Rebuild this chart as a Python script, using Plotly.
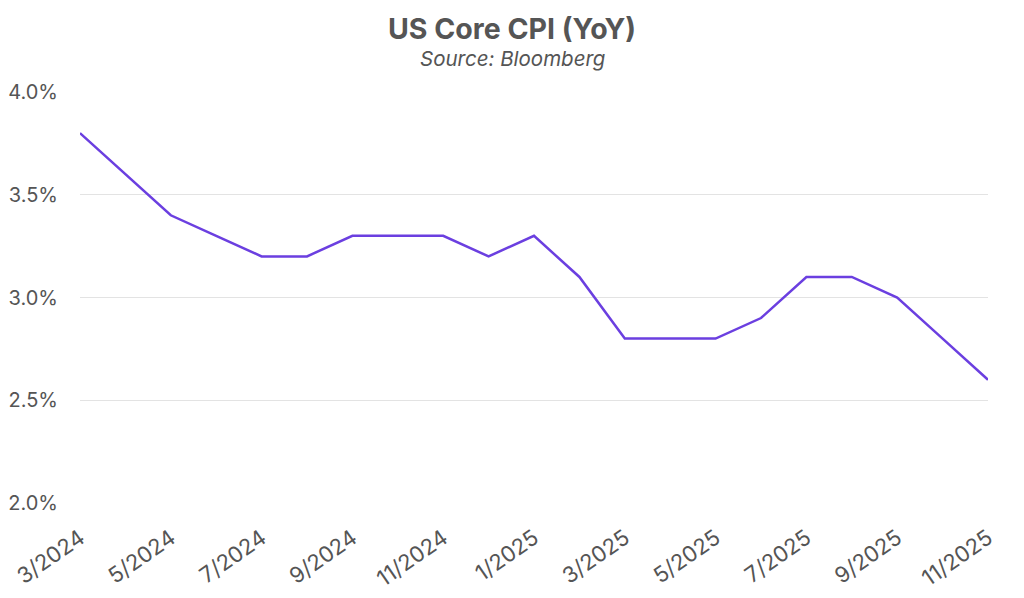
import plotly.graph_objects as go

months = ["3/2024", "4/2024", "5/2024", "6/2024", "7/2024", "8/2024", "9/2024",
          "10/2024", "11/2024", "12/2024", "1/2025", "2/2025", "3/2025", "4/2025",
          "5/2025", "6/2025", "7/2025", "8/2025", "9/2025", "10/2025", "11/2025"]
core_cpi = [3.8, 3.6, 3.4, 3.3, 3.2, 3.2, 3.3, 3.3, 3.3, 3.2, 3.3, 3.1, 2.8, 2.8,
            2.8, 2.9, 3.1, 3.1, 3.0, 2.8, 2.6]
tick_labels = months[::2]
y_ticks = [2.0, 2.5, 3.0, 3.5, 4.0]

FONT = "Inter, Open Sans, sans-serif"
GREY = "#555555"

fig = go.Figure()
fig.add_trace(go.Scatter(
    x=months, y=core_cpi, mode="lines",
    line=dict(color="#6B3FE0", width=2.5),
    hoverinfo="x+y",
))

# page body has an 8px margin, so the figure is sized 1008x582
fig.update_layout(
    width=1008, height=582,
    paper_bgcolor="white", plot_bgcolor="white",
    margin=dict(l=72, r=28, t=84, b=87, autoexpand=False),
    showlegend=False,
    font=dict(family=FONT, color=GREY),
)
# titles centred on the page rather than the plot area
title_x = (504 - 72) / 908
fig.add_annotation(text="<b>US Core CPI (YoY)</b>", xref="paper", yref="paper",
                   x=title_x, y=1, yanchor="middle", yshift=64, showarrow=False,
                   font=dict(size=28.5, color=GREY, family=FONT))
fig.add_annotation(text="<i>Source: Bloomberg</i>", xref="paper", yref="paper",
                   x=title_x, y=1, yanchor="middle", yshift=34, showarrow=False,
                   font=dict(size=20.5, color=GREY, family=FONT))

fig.update_xaxes(
    type="category", range=[0, len(months) - 1],
    tickmode="array", tickvals=tick_labels, ticktext=tick_labels,
    tickangle=-35, tickfont=dict(size=22, color=GREY, family=FONT),
    showgrid=False, zeroline=False, showline=False, ticks="",
    automargin=False, ticklabelstandoff=17,
)
fig.update_yaxes(
    range=[2.0, 4.0], tickmode="array", tickvals=y_ticks,
    ticktext=[f"{v:.1f}%" for v in y_ticks],
    tickfont=dict(size=20, color=GREY, family=FONT),
    showgrid=True, gridcolor="#E3E3E3", gridwidth=1,
    zeroline=False, showline=False, ticks="", ticklabelstandoff=21,
    automargin=False,
)

fig.write_html("out.html")
